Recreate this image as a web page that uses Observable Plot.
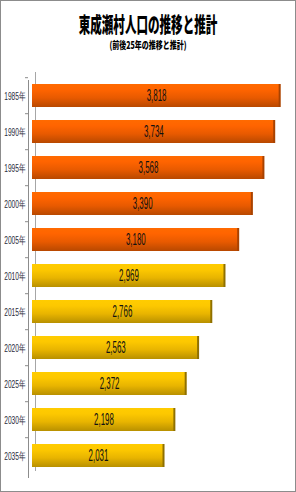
<!DOCTYPE html>
<html><head><meta charset="utf-8">
<script src="https://cdn.jsdelivr.net/npm/d3@7"></script>
<script src="https://cdn.jsdelivr.net/npm/@observablehq/plot@0.6"></script>
<style>
body{margin:0;background:#fff}
#wrap{position:relative;width:296px;height:492px;overflow:hidden;background:#fff}
#border{position:absolute;left:0;top:0;width:296px;height:492px;box-sizing:border-box;border:1px solid #8c8c8c;pointer-events:none}
.t{position:absolute;left:0;width:296px;text-align:center;font-family:"Noto Sans CJK JP";font-weight:900;color:#000;white-space:nowrap}
#title{top:9px;font-size:21px;line-height:28px;transform:scaleX(0.55)}
#sub{top:38px;font-size:10px;line-height:14px;transform:scaleX(0.7)}
#chart{position:absolute;left:0;top:62px}
</style></head><body>
<div id="wrap">
  <div id="title" class="t">東成瀬村人口の推移と推計</div>
  <div id="sub" class="t">(前後25年の推移と推計)</div>
  <div id="chart"></div>
  <div id="border"></div>
</div>
<script>
const years = ["1985年","1990年","1995年","2000年","2005年","2010年","2015年","2020年","2025年","2030年","2035年"];
const population = [3818,3734,3568,3390,3180,2969,2766,2563,2372,2198,2031];
const kinds = ["実績","実績","実績","実績","実績","推計","推計","推計","推計","推計","推計"];

const data = years.map((y, i) => ({year: y, value: population[i], kind: kinds[i]}));
const actual = data.filter(d => d.kind === "実績");
const projected = data.filter(d => d.kind === "推計");
const fmt = d3.format(",");

const chart = Plot.plot({
  width: 296, height: 430,
  marginLeft: 32, marginRight: 4, marginTop: 8, marginBottom: 11.5,
  style: {background: "transparent", overflow: "visible"},
  x: {domain: [0, 4000], axis: null},
  y: {domain: years, paddingInner: 0.37, paddingOuter: 0.3, label: null},
  marks: [
    Plot.ruleX([0], {dx: 3, insetTop: 2, insetBottom: 9.5, stroke: "#a6a6a6"}),
    Plot.ruleX([0], {dx: -4, insetTop: 10, insetBottom: 2.5, stroke: "#8c8c8c"}),
    Plot.axisY({tickSize: 3, dx: -4, dy: -18.3, tickFormat: () => "", stroke: "#8c8c8c", label: null}),
    Plot.axisY({tickSize: 0, tickPadding: 7, fontSize: 11, fill: "#2b2b3a", fontFamily: "Liberation Sans", label: null}),
    Plot.barX(actual, {x: "value", y: "year", fill: "url(#gOrange)"}),
    Plot.barX(projected, {x: "value", y: "year", fill: "url(#gYellow)"}),
    Plot.tickX(actual, {x: "value", y: "year", stroke: "#a84200", strokeWidth: 2, dx: -1}),
    Plot.tickX(projected, {x: "value", y: "year", stroke: "#8f7000", strokeWidth: 2, dx: -1}),
    Plot.text(data, {x: d => d.value / 2, y: "year", text: d => fmt(d.value), fontSize: 16.5, fontFamily: "Liberation Sans", fill: "#111"})
  ]
});

const svg = d3.select(chart);
const defs = svg.insert("defs", ":first-child");
function grad(id, stops) {
  const g = defs.append("linearGradient").attr("id", id).attr("x1", 0).attr("y1", 0).attr("x2", 0).attr("y2", 1);
  stops.forEach(([o, c]) => g.append("stop").attr("offset", o).attr("stop-color", c));
}
grad("gOrange", [[0, "#ff6a00"], [0.25, "#ff6400"], [0.6, "#e85a00"], [1, "#b84800"]]);
grad("gYellow", [[0, "#ffcc00"], [0.25, "#fdc800"], [0.6, "#e8b400"], [1, "#b89000"]]);

svg.selectAll('g[aria-label="text"] text').attr("transform", function() { return (this.getAttribute("transform") || "") + " scale(0.48,1)"; });
svg.selectAll('g[aria-label="y-axis tick label"] text').attr("transform", function() { return (this.getAttribute("transform") || "") + " scale(0.6,1)"; });

document.getElementById("chart").appendChild(chart);
</script>
</body></html>
